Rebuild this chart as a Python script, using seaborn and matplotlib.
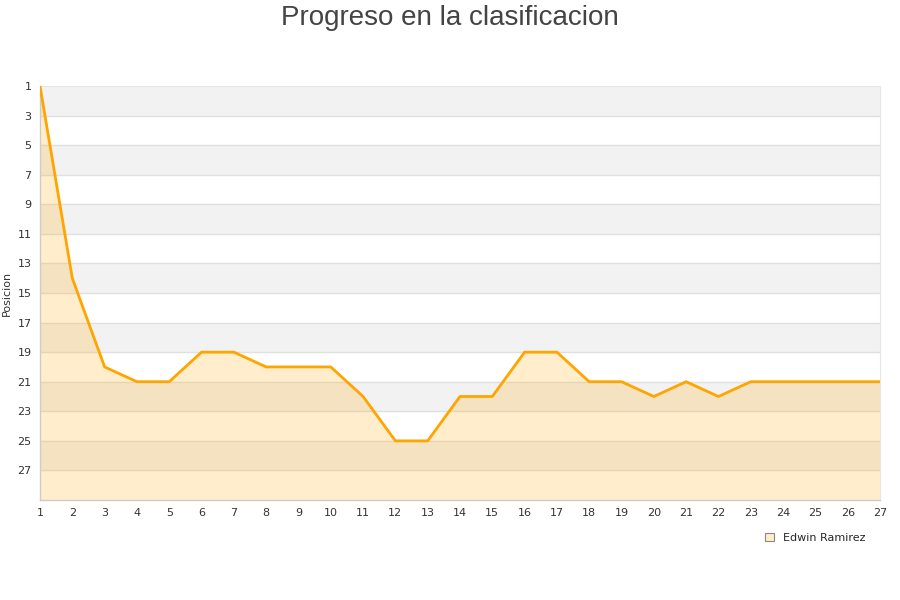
import matplotlib
matplotlib.use("Agg")
import matplotlib.pyplot as plt
import seaborn as sns
import pandas as pd
from matplotlib.patches import Patch

jornadas = list(range(1, 28))
posicion = [1, 14, 20, 21, 21, 19, 19, 20, 20, 20, 22, 25, 25, 22, 22, 19, 19,
            21, 21, 22, 21, 22, 21, 21, 21, 21, 21]
y_ticks = list(range(1, 29, 2))
player = "Edwin Ramirez"

sns.set_style("white")
plt.rcParams['font.family'] = ['DejaVu Sans']

df = pd.DataFrame({"Jornada": jornadas, "Posicion": posicion})

fig = plt.figure(figsize=(9, 6), dpi=100)
ax = fig.add_axes([40/900, 100/600, 840/900, 414/600])

# alternating bands
for i, y0 in enumerate(range(1, 29, 2)):
    if i % 2 == 0:
        ax.axhspan(y0, y0 + 2, color="#f2f2f2", zorder=0, lw=0)
for y in range(3, 29, 2):
    ax.axhline(y, color="#e0e0e0", lw=1, zorder=1)

ax.fill_between(df["Jornada"], df["Posicion"], 29, color="#ffa500", alpha=0.2, lw=0, zorder=2)
sns.lineplot(data=df, x="Jornada", y="Posicion", ax=ax, color="#ffa500", lw=2, zorder=3)

ax.set_xlim(1, 27)
ax.set_ylim(29, 1)
ax.set_xticks(jornadas)
ax.set_yticks(y_ticks)
ax.tick_params(axis="both", labelsize=8, colors="#333333", length=0, pad=6)
ax.set_xlabel("")
ax.set_ylabel("Posicion", fontsize=8, color="#333333", labelpad=4)

for s in ["top", "right"]:
    ax.spines[s].set_color("#e6e6e6")
    ax.spines[s].set_linewidth(0.8)
for s in ["left", "bottom"]:
    ax.spines[s].set_color("#cccccc")
    ax.spines[s].set_linewidth(1)

fig.text(0.5, 0.992, "Progreso en la clasificacion", ha="center", va="top",
         fontsize=20, color="#444444", family=["Liberation Sans", "DejaVu Sans"])

handle = Patch(facecolor="#ffedcc", edgecolor="#888888", lw=0.8)
fig.legend([handle], [player], loc="center left", bbox_to_anchor=(755/900, 1 - 538/600),
           frameon=False, fontsize=8, handlelength=0.8, handleheight=0.8, handletextpad=0.8)

fig.savefig("out.png", dpi=100)
